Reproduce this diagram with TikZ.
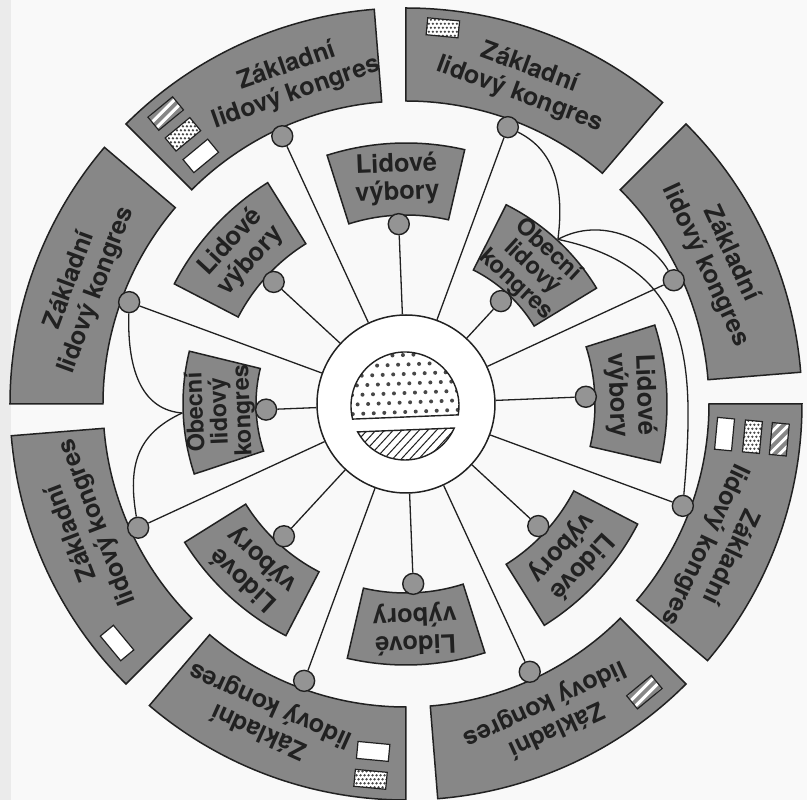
\documentclass[tikz,border=0pt]{standalone}
\usepackage{fontspec}
\setmainfont{TeX Gyre Heros}
\definecolor{seg}{gray}{0.53}
\definecolor{knobc}{gray}{0.58}
\definecolor{ink}{gray}{0.13}
\definecolor{paper}{gray}{0.975}
\definecolor{dotc}{gray}{0.28}
% annular sector: [style] centre angle, half span, inner r, outer r
\newcommand{\annsec}[5][]{\path[#1] ({#2-#3}:#4) arc[start angle={#2-#3}, end angle={#2+#3}, radius=#4pt] -- ({#2+#3}:#5) arc[start angle={#2+#3}, end angle={#2-#3}, radius=#5pt] -- cycle;}
\newcommand{\whitebx}[2]{\draw[fill=white, draw=ink, line width=1.2pt, shift={(#1:#2)}, rotate=#1-90] (-16,-8.5) rectangle (16,8.5);}
\newcommand{\hatchbx}[2]{%
  \begin{scope}[shift={(#1:#2)}]
    \clip[rotate=#1-90] (-16,-8.5) rectangle (16,8.5);
    \fill[white] (-22,-22) rectangle (22,22);
    \foreach \k in {-50,-40,...,50} \draw[seg, line width=3.8pt] (\k-22,-22) -- (\k+22,22);
  \end{scope}
  \draw[draw=ink, line width=1.2pt, shift={(#1:#2)}, rotate=#1-90] (-16,-8.5) rectangle (16,8.5);}
\newcommand{\dotbx}[2]{%
  \begin{scope}[shift={(#1:#2)}]
    \clip[rotate=#1-90] (-16,-8.5) rectangle (16,8.5);
    \fill[white] (-22,-22) rectangle (22,22);
    \foreach \i in {-5,...,5} \foreach \j in {-5,...,5} \fill[dotc] ({\i*4+mod(\j,2)*2},{\j*4}) circle[radius=1.3pt];
  \end{scope}
  \draw[draw=ink, line width=1.2pt, shift={(#1:#2)}, rotate=#1-90] (-16,-8.5) rectangle (16,8.5);}
\begin{document}
\begin{tikzpicture}[x=1pt,y=1pt,
  segshape/.style={fill=seg, draw=ink, line width=1.5pt},
  knob/.style={circle, fill=knobc, draw=ink, line width=1.4pt, minimum size=21pt, inner sep=0pt},
  spoke/.style={draw=ink, line width=1.3pt},
  bigtext/.style={font=\fontsize{25pt}{28pt}\selectfont\bfseries, text=ink, align=center, inner sep=0pt},
  midtext/.style={font=\fontsize{25.5pt}{27.5pt}\selectfont\bfseries, text=ink, align=center, inner sep=0pt},
  obtext/.style={font=\fontsize{23.5pt}{23.5pt}\selectfont\bfseries, text=ink, align=center, inner sep=0pt}]
\useasboundingbox (-406,-396) rectangle (401,404);
\fill[paper] (-406,-396) rectangle (401,404);
\fill[gray!16] (-406,-396) rectangle (-395,404);
% outer ring
\foreach \a in {24.8,69.8,114.8,159.8,204.8,249.8,294.8,339.8}
  {\annsec[segshape]{\a}{20.2}{303}{396}}
% inner segments
\foreach \a in {2.3,92.3,137.3,227.3,272.3,317.3}
  {\annsec[segshape]{\a}{15.3}{189}{261}}
\foreach \a in {47.3,182.3}
  {\annsec[segshape]{\a}{16}{150}{223}}
% legend boxes
\hatchbx{129.6}{377}\dotbx{129.6}{350}\whitebx{129.6}{322}
\dotbx{84.4}{378}
\whitebx{354.6}{320}\dotbx{354.6}{348}\hatchbx{354.6}{375}
\hatchbx{309.6}{374}
\whitebx{264.6}{349}\dotbx{264.6}{377}
\whitebx{219.6}{375}
% knobs
\foreach \a [count=\n] in {24.8,69.8,114.8,159.8,204.8,249.8,294.8,339.8}
  {\node[knob] (o\n) at (\a:295) {};}
\foreach \a/\r [count=\n] in {2.3/180,47.3/140,92.3/180,137.3/180,182.3/140,227.3/180,272.3/180,317.3/180}
  {\node[knob] (i\n) at (\a:\r) {};}
% hub
\node[circle, draw=ink, fill=white, line width=1.5pt, minimum size=178pt, inner sep=0pt] (hub) at (0,0) {};
% spokes
\foreach \n in {1,...,8} {\draw[spoke] (hub) -- (o\n); \draw[spoke] (hub) -- (i\n);}
% curves
\coordinate (q1) at (47.3:224);
\coordinate (q2) at (182.3:224);
\draw[spoke] (o2) .. controls (142,257) and (160,226) .. (q1);
\draw[spoke] (q1) .. controls (196,188.5) and (245.5,163) .. (o1);
\draw[spoke] (q1) .. controls (284,137) and (290,47) .. (o8);
\draw[spoke] (o4) .. controls (-279,30) and (-262,-6) .. (q2);
\draw[spoke] (q2) .. controls (-269,-30) and (-278.4,-61) .. (o5);
% centre emblem
\begin{scope}[shift={(-1,-2)}, rotate=2.3]
  \begin{scope}
    \clip (-11.75:54) arc[start angle=-11.75, end angle=191.75, radius=54pt] -- cycle;
    \foreach \i in {-6,...,6} \foreach \j in {-2,...,6}
      \fill[dotc] ({\i*10.5+mod(\j,2)*5.25},{\j*9.5-6}) circle[radius=2pt];
  \end{scope}
  \draw[ink, line width=1.4pt] (-11.75:54) arc[start angle=-11.75, end angle=191.75, radius=54pt] -- cycle;
  \begin{scope}
    \clip (206.39:54) arc[start angle=206.39, end angle=333.61, radius=54pt] -- cycle;
    \foreach \k in {-90,-81,...,90} \draw[ink, line width=1pt] (\k-40,-60) -- (\k+40,20);
  \end{scope}
  \draw[ink, line width=1.4pt] (206.39:54) arc[start angle=206.39, end angle=333.61, radius=54pt] -- cycle;
\end{scope}
% texts
\foreach \a [count=\n] in {24.8,69.8,109.4,159.8,201,245.8,294.8,334.8}
  {\node[bigtext, rotate=\a-90] (t\n) at (\a:344) {Základní\\lidový kongres};}
\foreach \a [count=\n] in {2.3,92.3,137.3,227.3,272.3,317.3}
  {\node[midtext, rotate=\a-90] (l\n) at (\a:225) {Lidové\\výbory};}
\node[obtext, rotate=-42.7] (ob1) at (47.3:186) {Obecní\\lidový\\kongres};
\node[obtext, rotate=92.3] (ob2) at (182.3:186) {Obecní\\lidový\\kongres};
\end{tikzpicture}
\end{document}
